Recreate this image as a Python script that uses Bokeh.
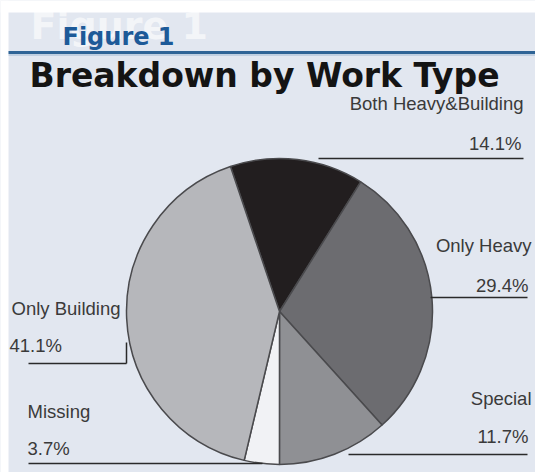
import math
from bokeh.plotting import figure
from bokeh.models import Range1d, ColumnDataSource
from bokeh.core.properties import value
from bokeh.embed import file_html
from bokeh.resources import INLINE

# ---- data ----
categories = ["Both Heavy&Building", "Only Heavy", "Special", "Missing", "Only Building"]
percent = [14.1, 29.4, 11.7, 3.7, 41.1]
pct_labels = ["14.1%", "29.4%", "11.7%", "3.7%", "41.1%"]
colors = ["#221e1f", "#6c6c70", "#8f9094", "#f1f2f5", "#b6b7bb"]

BG = "#e2e7f0"
W, H = 535, 472


def Y(py):
    return H - py


p = figure(width=W, height=H, output_backend="svg", toolbar_location=None,
           x_range=Range1d(0, W), y_range=Range1d(0, H),
           min_border=0, outline_line_color=None,
           background_fill_color=BG, border_fill_color=BG)
p.axis.visible = False
p.grid.visible = False


def T(x, py, txt, fs, font="Liberation Sans", bold=False, color="#3a3a3a",
      align="left", alpha=1.0):
    p.text(x=[x], y=[Y(py - 0.36 * fs)], text=[txt], text_font=value(font),
           text_font_style="bold" if bold else "normal", text_font_size=f"{fs}px",
           text_color=color, text_alpha=alpha, text_align=align,
           text_baseline="alphabetic")


# ghost header text
T(30, 39, "Figure 1", 38, font="DejaVu Sans", bold=True, color="white", alpha=0.6)
# white page-margin strips of the original
p.quad(left=[0], right=[W], bottom=[Y(12)], top=[H], fill_color="white", line_color=None)
p.quad(left=[0], right=[8], bottom=[0], top=[H], fill_color="white", line_color=None)

# header
T(62, 45, "Figure 1", 24, font="DejaVu Sans", bold=True, color="#1d5a98")
p.segment(x0=[8], y0=[Y(52)], x1=[W], y1=[Y(52)], line_color="#2f6496", line_width=3)
p.segment(x0=[8], y0=[Y(54.5)], x1=[W], y1=[Y(54.5)], line_color="#9fb8d2", line_width=1)

T(29, 87, "Breakdown by Work Type", 33, font="DejaVu Sans", bold=True, color="#141414")

# ---- pie ----
cx, cy, r = 279, Y(311), 153
top_deg = 108.7
starts, ends = [], []
cum = 0.0
for v in percent:
    a_end = math.radians(top_deg - cum * 3.6)
    cum += v
    a_start = math.radians(top_deg - cum * 3.6)
    starts.append(a_start)
    ends.append(a_end)

src = ColumnDataSource(dict(cat=categories, start=starts, end=ends, color=colors))
p.wedge(x=cx, y=cy, radius=r, start_angle="start", end_angle="end",
        fill_color="color", line_color="#4a4a4d", line_width=1.5, source=src)

# ---- labels & leader lines ----
FS = 18.5
LN = "#2a2a2a"
# Both Heavy&Building
T(523, 110, categories[0], FS, align="right")
T(521, 150, pct_labels[0], FS, align="right")
p.segment(x0=[318], y0=[Y(158)], x1=[523], y1=[Y(158)], line_color=LN, line_width=1.5)
# Only Heavy
T(531, 252, categories[1], FS, align="right")
T(528, 292, pct_labels[1], FS, align="right")
p.segment(x0=[430], y0=[Y(297)], x1=[527], y1=[Y(297)], line_color=LN, line_width=1.5)
# Special
T(531, 405, categories[2], FS, align="right")
T(528, 443, pct_labels[2], FS, align="right")
p.segment(x0=[348], y0=[Y(454)], x1=[527], y1=[Y(454)], line_color=LN, line_width=1.5)
# Missing
T(27, 418, categories[3], FS)
T(27, 455, pct_labels[3], FS)
p.segment(x0=[28], y0=[Y(463)], x1=[262], y1=[Y(463)], line_color=LN, line_width=1.5)
# Only Building
T(11, 315, categories[4], FS)
T(9, 352, pct_labels[4], FS)
p.segment(x0=[28], y0=[Y(363)], x1=[126], y1=[Y(363)], line_color=LN, line_width=1.5)
p.segment(x0=[126], y0=[Y(363)], x1=[126], y1=[Y(342)], line_color=LN, line_width=1.5)

open("out.html", "w").write(file_html(p, INLINE))
